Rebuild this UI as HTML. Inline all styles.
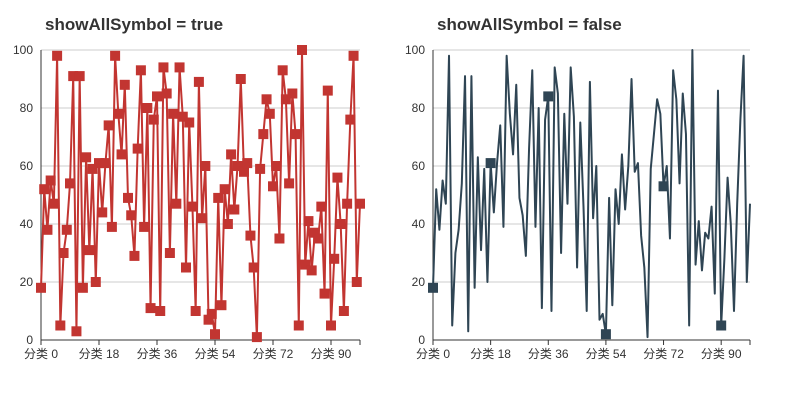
<!DOCTYPE html>
<html><head><meta charset="utf-8"><style>
body{margin:0;background:#fff;width:800px;height:400px;overflow:hidden}
svg{font-family:"Liberation Sans","Noto Sans CJK SC",sans-serif}
</style></head><body>
<svg id="c" width="800" height="400"></svg>
<script>
const categories = Array.from({length:100},(_,i)=>'分类 '+i);
const values = [18,52,38,55,47,98,5,30,38,54,91,3,91,18,63,31,59,20,61,44,61,74,39,98,78,64,88,49,43,29,66,93,39,80,11,76,84,10,94,85,30,78,47,94,77,25,75,46,10,89,42,60,7,9,2,49,12,52,40,64,45,60,90,58,61,36,25,1,59,71,83,78,53,60,35,93,83,54,85,71,5,100,26,41,24,37,35,46,16,86,5,28,56,40,10,47,76,98,20,47];
const yTicks = [0,20,40,60,80,100];
const xLabelIdx = [0,18,36,54,72,90];
const svg=document.getElementById('c');
const NS='http://www.w3.org/2000/svg';
function mk(t,a,p){const e=document.createElementNS(NS,t);for(const k in a)e.setAttribute(k,a[k]);(p||svg).appendChild(e);return e;}
function chart(x0,x1,title,color,all,name){
  const g=mk('g',{});
  
  
  const y0=340,y1=50;
  const X=i=>x0+(x1-x0)*i/(categories.length-1);
  const Y=v=>y0-(y0-y1)*v/100;
  const t=mk('text',{x:x0+4,y:30,'font-size':17,'font-weight':'bold',fill:'#333'},g);t.textContent=title;
  
  
  yTicks.forEach(v=>{
    const l=mk('line',{x1:x0,x2:x1,y1:Y(v),y2:Y(v),stroke:v===0?'#333':'#ccc'},g);
    
    
    const tx=mk('text',{x:x0-8,y:Y(v)+4,'font-size':12,fill:'#333','text-anchor':'end'},g);tx.textContent=v;
    
    
  });
  const ax=mk('line',{x1:x0,x2:x0,y1:y1,y2:y0,stroke:'#333'},g);
  
  
  xLabelIdx.forEach(i=>{
    const tk=mk('line',{x1:X(i),x2:X(i),y1:y0,y2:y0+5,stroke:'#333'},g);
    
    
    const tx=mk('text',{x:X(i),y:y0+18,'font-size':12,fill:'#333','text-anchor':'middle'},g);tx.textContent=categories[i];
    
    
  });
  const end=mk('line',{x1:x1,x2:x1,y1:y0,y2:y0+5,stroke:'#333'},g);
  
  
  const pl=mk('polyline',{points:values.map((v,i)=>X(i)+','+Y(v)).join(' '),fill:'none',stroke:color,'stroke-width':2,'stroke-linejoin':'round'},g);
  
  
  values.forEach((v,i)=>{
    if(!all && !xLabelIdx.includes(i))return;
    const r=mk('rect',{x:X(i)-5,y:Y(v)-5,width:10,height:10,fill:color},g);
    
    
  });
}
chart(41,360,'showAllSymbol = true','#c23531',true,'chart-show-all');
chart(433,750,'showAllSymbol = false','#2f4554',false,'chart-show-some');
</script>
</body></html>
